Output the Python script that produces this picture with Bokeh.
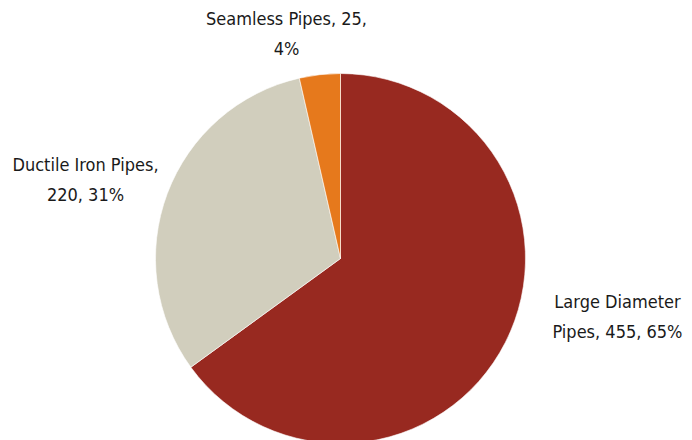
import numpy as np
from bokeh.plotting import figure
from bokeh.models import Range1d, ColumnDataSource
from bokeh.core.properties import value
from bokeh.embed import file_html
from bokeh.resources import INLINE

# ---- data ----
categories = ["Large Diameter Pipes", "Ductile Iron Pipes", "Seamless Pipes"]
values = [455, 220, 25]
percents = ["65%", "31%", "4%"]
label_texts = ["Large Diameter\nPipes, 455, 65%", "Ductile Iron Pipes,\n220, 31%", "Seamless Pipes, 25,\n4%"]
colors = ["#982920", "#D1CEBD", "#E6791C"]

# ---- layout (pixel based coordinates, y up) ----
W, H = 692, 440
cx, cy, R = 340, 182, 185
label_xy = [(617, 124), (85, 261), (286, 407)]

vals = np.array(values, dtype=float)
frac = vals / vals.sum()
ends = np.pi / 2 - 2 * np.pi * np.cumsum(frac)
starts = np.concatenate([[np.pi / 2], ends[:-1]])

p = figure(width=W, height=H, output_backend="svg", toolbar_location=None,
           x_range=Range1d(0, W), y_range=Range1d(0, H), min_border=0)
p.axis.visible = False
p.grid.visible = False
p.outline_line_color = None
p.background_fill_color = "white"

src = ColumnDataSource(dict(start=starts, end=ends, color=colors, cat=categories))
p.wedge(x=cx, y=cy, radius=R, start_angle="start", end_angle="end",
        direction="clock", fill_color="color", line_color="white", line_width=0.6,
        source=src)

lsrc = ColumnDataSource(dict(x=[xy[0] for xy in label_xy], y=[xy[1] for xy in label_xy],
                             t=label_texts))
p.text(x="x", y="y", text="t", source=lsrc, text_align="center", text_baseline="middle",
       text_font=value("DejaVu Sans Condensed"), text_font_size="18px",
       text_line_height=1.4, text_color="#1a1a1a")

open("out.html", "w").write(file_html(p, INLINE))
